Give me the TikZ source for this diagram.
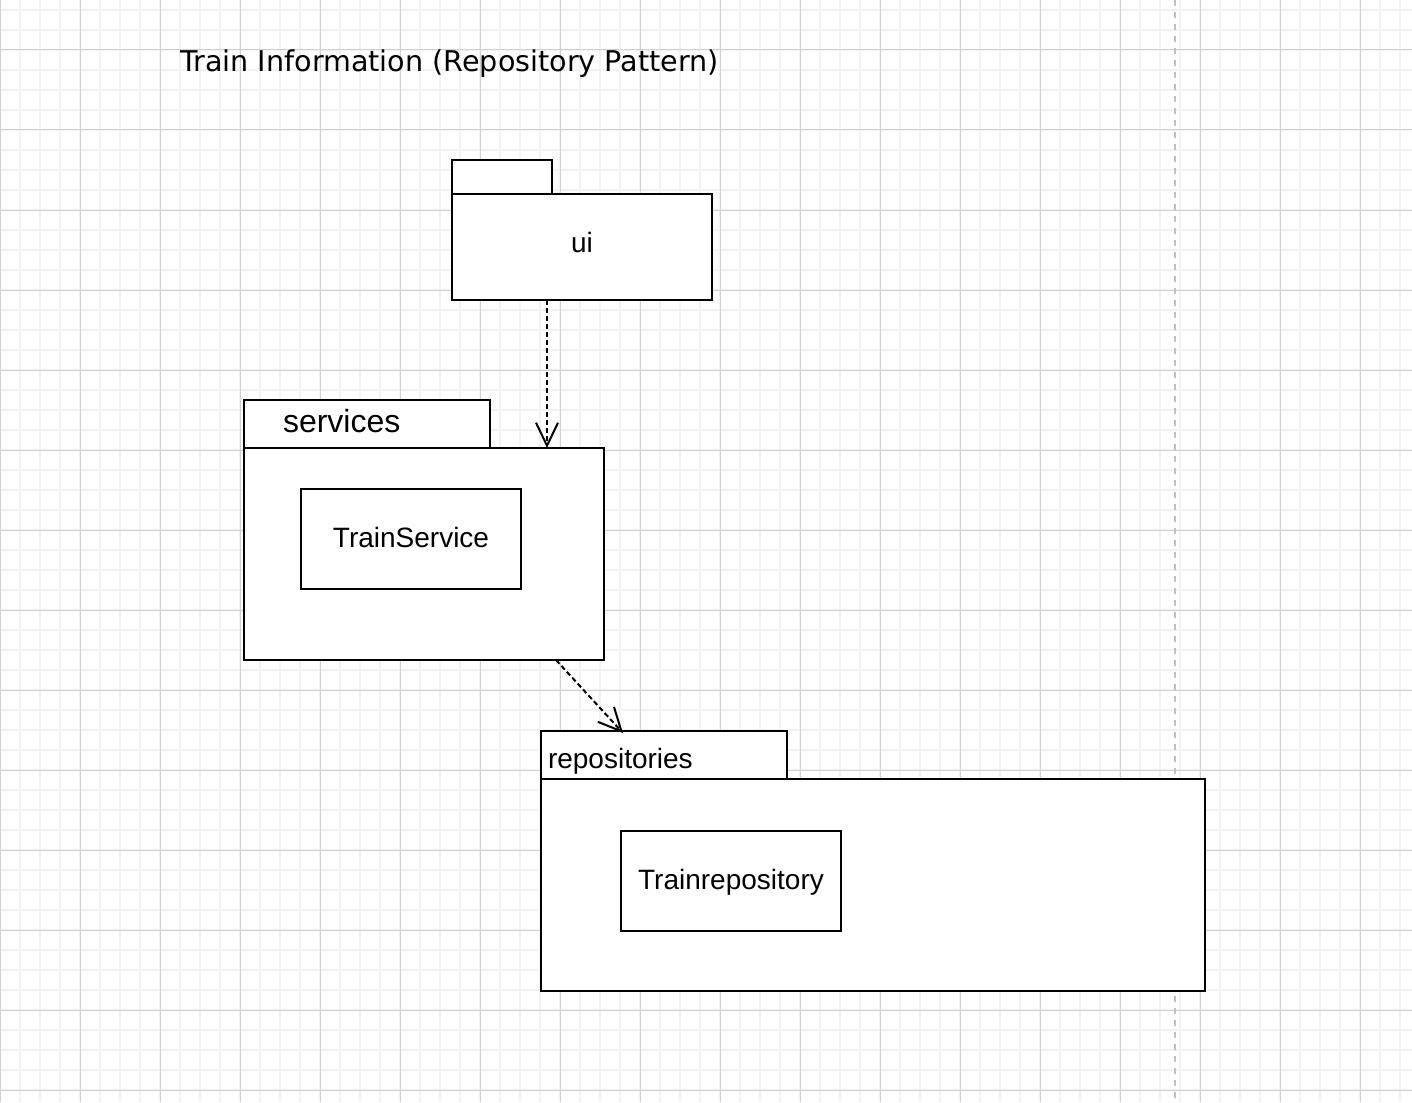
\documentclass[tikz,border=0pt]{standalone}
\usepackage{fontspec}
\setmainfont{Liberation Sans}
\newfontfamily\titlefont{DejaVu Sans}
\usetikzlibrary{arrows.meta}
\definecolor{gridminor}{HTML}{F2F2F2}
\definecolor{gridmajor}{HTML}{D0D0D0}
\definecolor{pageline}{HTML}{C0C0C0}
\tikzset{
  pkg/.style={draw=black, fill=white, line width=2.2pt, rectangle, inner sep=0pt, outer sep=0pt, anchor=north west},
  lbl/.style={font=\fontsize{28}{33}\selectfont, text height=20.2pt, text depth=3.1pt},
  dep/.style={draw=black, line width=2pt, dash pattern=on 5pt off 3pt,
    -{Straight Barb[length=23pt,width=22pt,line width=2pt]}}
}
\begin{document}
\begin{tikzpicture}[x=1pt,y=-1pt]
\useasboundingbox (0,0) rectangle (1412,1102);
% grid
\foreach \x in {0,20,...,1400} \draw[gridminor, line width=1.5pt] (\x,0) -- (\x,1102);
\foreach \y in {10,30,...,1090} \draw[gridminor, line width=1.5pt] (0,\y) -- (1412,\y);
\foreach \x in {0,80,...,1360} \draw[gridmajor, line width=1pt] (\x,0) -- (\x,1102);
\foreach \y in {50,130,...,1090} \draw[gridmajor, line width=1pt] (0,\y) -- (1412,\y);
% page boundary
\draw[pageline, line width=1.5pt, dash pattern=on 6pt off 6pt] (1175,0) -- (1175,1102);
% title
\node[anchor=base west, inner sep=0pt, font=\titlefont\fontsize{28.6}{34}\selectfont] (title) at (180,72) {Train Information (Repository Pattern)};
% ui package
\node[pkg, minimum width=100pt, minimum height=34pt] (uitab) at (452,160) {};
\node[pkg, lbl, minimum width=260pt, minimum height=106pt, text depth=10.1pt] (uibody) at (452,194) {ui};
% services package
\node[pkg, font=\fontsize{32}{38}\selectfont, text height=23pt, text depth=7pt,
  minimum width=246pt, minimum height=48pt, inner xsep=39pt, text width=168pt, align=left] (svctab) at (244,400) {services};
\node[pkg, minimum width=360pt, minimum height=212pt] (svcbody) at (244,448) {};
\node[pkg, lbl, minimum width=220pt, minimum height=100pt] (trainservice) at (301,489) {TrainService};
% repositories package
\node[pkg, lbl, text height=26.6pt, text depth=0.6pt,
  minimum width=246pt, minimum height=48pt, inner xsep=7pt, text width=232pt, align=left] (repotab) at (541,731) {repositories};
\node[pkg, minimum width=664pt, minimum height=212pt] (repobody) at (541,779) {};
\node[pkg, lbl, minimum width=220pt, minimum height=100pt] (trainrepo) at (621,831) {Trainrepository};
% dependencies
\draw[dep] (uibody.south -| 547,0) -- (svcbody.north -| 547,0);
\draw[dep] (svcbody.south -| 556,0) -- ([yshift=-2pt]repotab.north -| 623,0);
\end{tikzpicture}
\end{document}
